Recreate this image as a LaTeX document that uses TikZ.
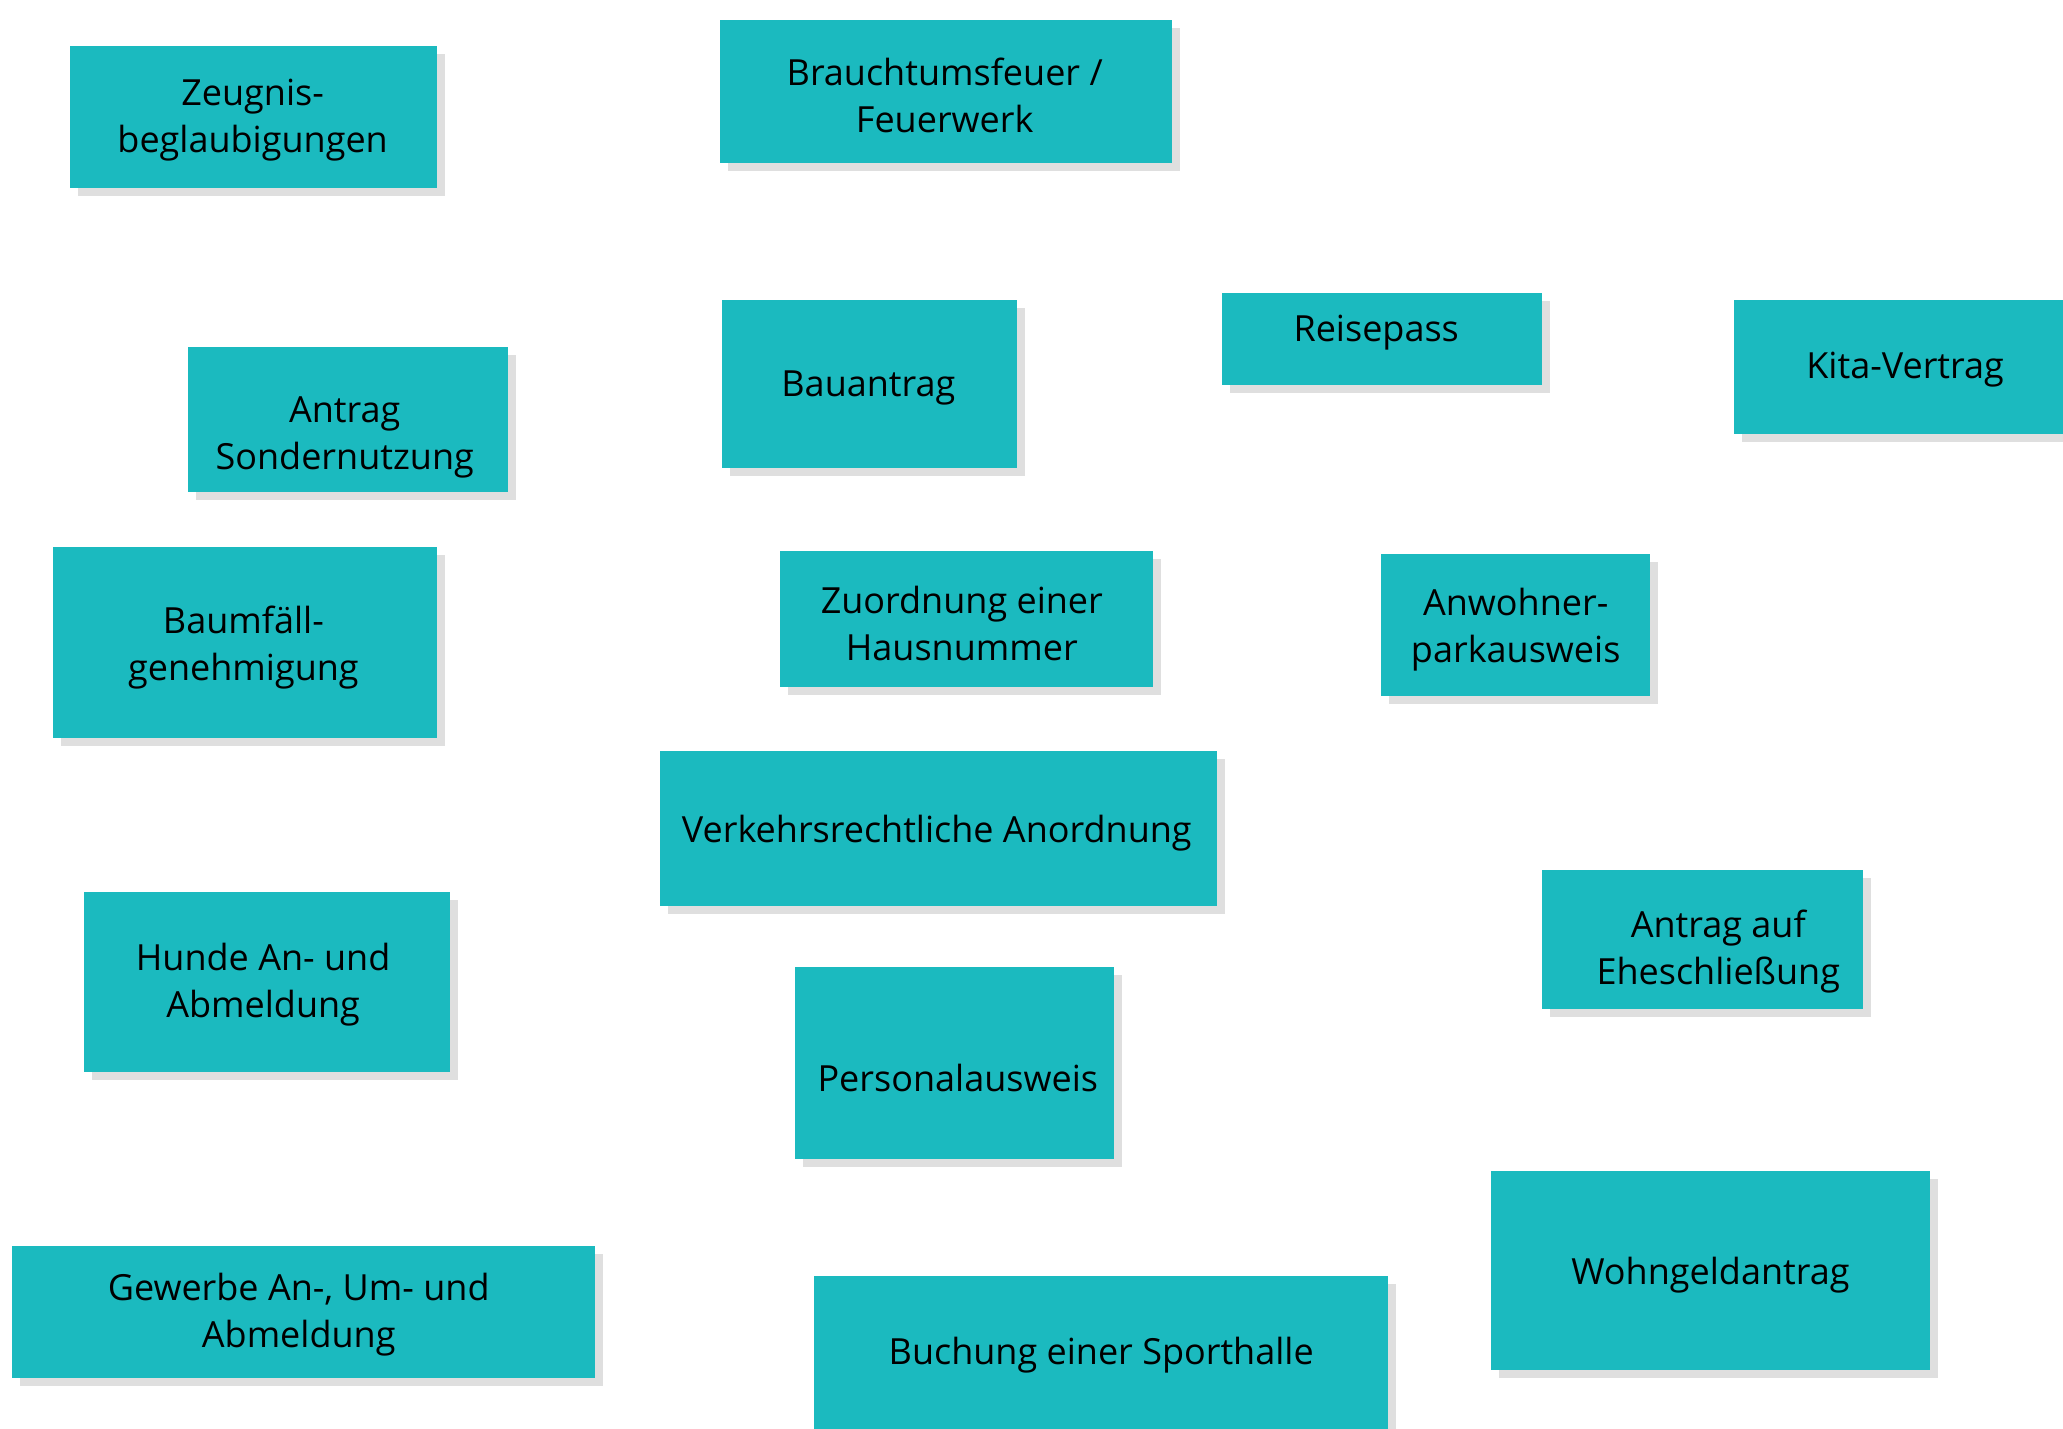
\documentclass[tikz,border=0pt]{standalone}
\usepackage{fontspec}
\setmainfont{Open Sans}
\usetikzlibrary{shadows}
\definecolor{boxteal}{HTML}{1BBABF}
\definecolor{shadowgray}{HTML}{DFDFDF}
\tikzset{
  card/.style={fill=boxteal, draw=none, inner sep=0pt, outer sep=0pt,
    general shadow={fill=shadowgray, shadow xshift=8pt, shadow yshift=-8pt}},
  lbl/.style={inner sep=0pt, align=center, text=black, yshift=-4pt,
    font=\fontsize{36pt}{47pt}\selectfont}
}
\begin{document}
\begin{tikzpicture}[x=1pt,y=-1pt]
\clip (0,0) rectangle (2063,1428);
\fill[white] (0,0) rectangle (2063,1428);
% boxes
\node[card, minimum width=367pt, minimum height=142pt] (b1) at (253.5,117) {};
\node[card, minimum width=452pt, minimum height=143pt] (b2) at (946,91.5) {};
\node[card, minimum width=320pt, minimum height=145pt] (b3) at (348,419.5) {};
\node[card, minimum width=295pt, minimum height=168pt] (b4) at (869.5,384) {};
\node[card, minimum width=320pt, minimum height=92pt] (b5) at (1382,339) {};
\node[card, minimum width=329pt, minimum height=134pt] (b6) at (1898.5,367) {};
\node[card, minimum width=384pt, minimum height=191pt] (b7) at (245,642.5) {};
\node[card, minimum width=373pt, minimum height=136pt] (b8) at (966.5,619) {};
\node[card, minimum width=269pt, minimum height=142pt] (b9) at (1515.5,625) {};
\node[card, minimum width=557pt, minimum height=155pt] (b10) at (938.5,828.5) {};
\node[card, minimum width=321pt, minimum height=139pt] (b11) at (1702.5,939.5) {};
\node[card, minimum width=366pt, minimum height=180pt] (b12) at (267,982) {};
\node[card, minimum width=319pt, minimum height=192pt] (b13) at (954.5,1063) {};
\node[card, minimum width=439pt, minimum height=199pt] (b14) at (1710.5,1270.5) {};
\node[card, minimum width=583pt, minimum height=132pt] (b15) at (303.5,1312) {};
\node[card, minimum width=574pt, minimum height=164pt] (b16) at (1101,1358) {};
% labels
\node[lbl] (t1) at (252.6,116.4) {Zeugnis-\\beglaubigungen};
\node[lbl] (t2) at (944.7,91.4) {Brauchtumsfeuer /\\Feuerwerk};
\node[lbl] (t3) at (344.7,433.5) {Antrag\\Sondernutzung};
\node[lbl] (t4) at (868.4,384.2) {Bauantrag};
\node[lbl] (t5) at (1376.2,328.9) {Reisepass};
\node[lbl] (t6) at (1905.1,365.8) {Kita-Vertrag};
\node[lbl] (t7) at (243.4,644) {Baumfäll-\\genehmigung};
\node[lbl] (t8) at (961.8,619) {Zuordnung einer\\Hausnummer};
\node[lbl] (t9) at (1515.7,625.6) {Anwohner-\\parkausweis};
\node[lbl] (t10) at (936.8,828.9) {Verkehrsrechtliche Anordnung};
\node[lbl] (t11) at (1718.3,947.3) {Antrag auf\\Eheschließung};
\node[lbl] (t12) at (263.1,980.9) {Hunde An- und\\Abmeldung};
\node[lbl] (t13) at (957.8,1073.6) {Personalausweis};
\node[lbl] (t14) at (1710.4,1271) {Wohngeldantrag};
\node[lbl] (t15) at (298.7,1311.1) {Gewerbe An-, Um- und\\Abmeldung};
\node[lbl] (t16) at (1101.2,1351.2) {Buchung einer Sporthalle};
\end{tikzpicture}
\end{document}
